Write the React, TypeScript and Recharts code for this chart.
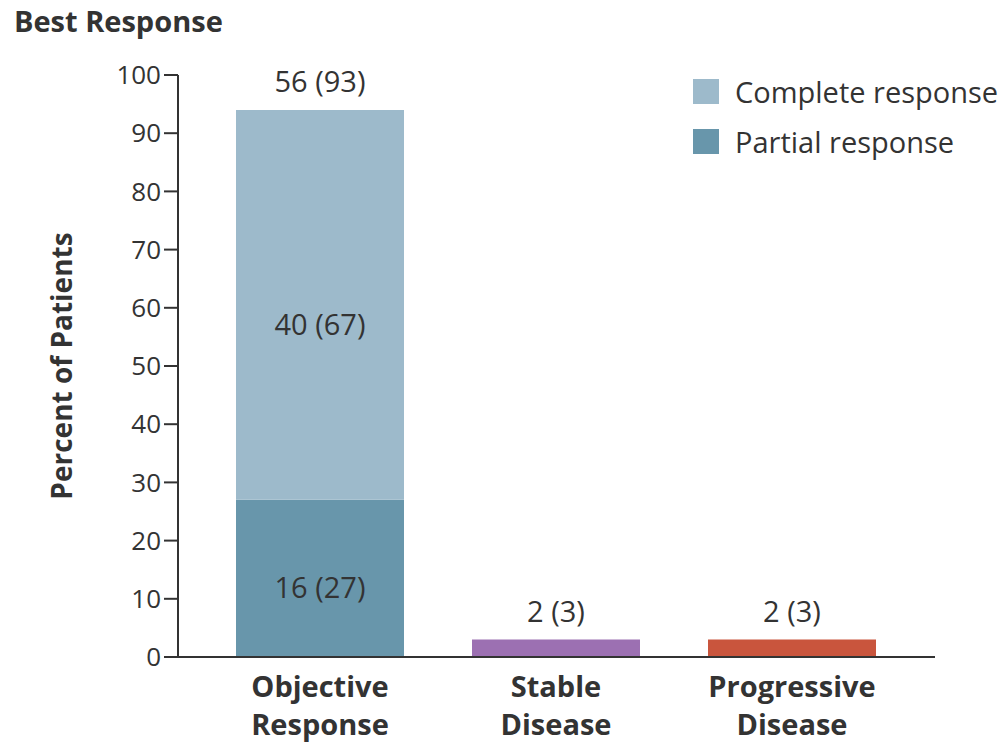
import React from 'react';
import { BarChart, Bar, XAxis, YAxis, Cell, LabelList } from 'recharts';

const categories = ['Objective Response', 'Stable Disease', 'Progressive Disease'];
const categoryLines = [['Objective', 'Response'], ['Stable', 'Disease'], ['Progressive', 'Disease']];
const partialPct = [27, 0, 0];
const completePct = [67, 0, 0];
const otherPct = [0, 3, 3];
const partialLabels = ['16 (27)', '', ''];
const completeLabels = ['40 (67)', '', ''];
const totalLabels = ['56 (93)', '2 (3)', '2 (3)'];
const yTicks = [0, 10, 20, 30, 40, 50, 60, 70, 80, 90, 100];
const legendNames = ['Complete response', 'Partial response'];

const COMPLETE = '#9dbacb';
const PARTIAL = '#6896ab';
const otherColors = ['#9dbacb', '#9c70b2', '#c9553d'];
const legendColors = [COMPLETE, PARTIAL];
const TEXT = '#333333';
const FONT = "'Open Sans', sans-serif";

const data = categories.map((c, i) => ({
  name: c,
  partial: partialPct[i],
  complete: completePct[i],
  other: otherPct[i],
  partialLabel: partialLabels[i],
  completeLabel: completeLabels[i],
  totalLabel: totalLabels[i],
}));

const XTick = (props: any) => {
  const { x, y, index } = props;
  const lines = categoryLines[index] || [];
  return (
    <g>
      {lines.map((l, k) => (
        <text key={k} x={x} y={y + 32 + k * 38} textAnchor="middle" fill={TEXT}
          fontFamily={FONT} fontWeight={700} fontSize={29}>{l}</text>
      ))}
    </g>
  );
};

const makeLabel = (mode: 'mid1' | 'mid2' | 'top') => (props: any) => {
  const { x, y, width, height, value } = props;
  if (!value) return null;
  let by = 0;
  if (mode === 'top') by = y - 18;
  else if (mode === 'mid1') by = y + height / 2 + 20;
  else by = y + height / 2 + 30;
  return (
    <text x={x + width / 2} y={by} textAnchor="middle" fill={TEXT}
      fontFamily={FONT} fontSize={29}>{value}</text>
  );
};

// total label sits on the complete segment only when it is the top of the stack
const totalOnComplete = (d: any) => (d.other > 0 ? '' : d.totalLabel);
const totalOnOther = (d: any) => (d.other > 0 ? d.totalLabel : '');

export default function App() {
  return (
    <div style={{ position: 'absolute', left: 0, top: 0, width: 1002, height: 746, background: '#fff' }}>
      <div style={{ position: 'absolute', left: 14, top: 1, fontFamily: FONT, fontWeight: 700, fontSize: 29, color: TEXT }}>
        Best Response
      </div>
      <BarChart width={1002} height={746} data={data}
        margin={{ top: 75, right: 67, bottom: 0, left: 0 }}>
        <XAxis dataKey="name" height={89} padding={{ left: 24, right: 25 }}
          axisLine={{ stroke: TEXT, strokeWidth: 2 }} tickLine={false}
          tick={<XTick />} interval={0} />
        <YAxis width={178} domain={[0, 100]} ticks={yTicks} allowDataOverflow
          axisLine={{ stroke: TEXT, strokeWidth: 2 }} tickLine={{ stroke: TEXT, strokeWidth: 2 }}
          tickSize={14} tickMargin={3}
          tick={{ fill: TEXT, fontSize: 26, fontFamily: FONT }}
          label={{
            content: () => (
              <text x={72} y={366} transform="rotate(-90 72 366)" textAnchor="middle"
                fill={TEXT} fontFamily={FONT} fontWeight={700} fontSize={28}>Percent of Patients</text>
            ),
          }} />
        <Bar dataKey="partial" stackId="a" fill={PARTIAL} barSize={168} isAnimationActive={false}>
          <LabelList dataKey="partialLabel" content={makeLabel('mid1')} />
        </Bar>
        <Bar dataKey="complete" stackId="a" fill={COMPLETE} barSize={168} isAnimationActive={false}>
          <LabelList dataKey="completeLabel" content={makeLabel('mid2')} />
          <LabelList dataKey={totalOnComplete} content={makeLabel('top')} />
        </Bar>
        <Bar dataKey="other" stackId="a" barSize={168} isAnimationActive={false}>
          {data.map((d, i) => <Cell key={i} fill={otherColors[i]} />)}
          <LabelList dataKey={totalOnOther} content={makeLabel('top')} />
        </Bar>
      </BarChart>
      {legendNames.map((n, i) => (
        <div key={n} style={{ position: 'absolute', left: 693, top: 79 + i * 50, display: 'flex', alignItems: 'center' }}>
          <div style={{ width: 26, height: 25, background: legendColors[i] }} />
          <span style={{ marginLeft: 16, fontFamily: FONT, fontSize: 29, color: TEXT, lineHeight: '25px' }}>{n}</span>
        </div>
      ))}
    </div>
  );
}
